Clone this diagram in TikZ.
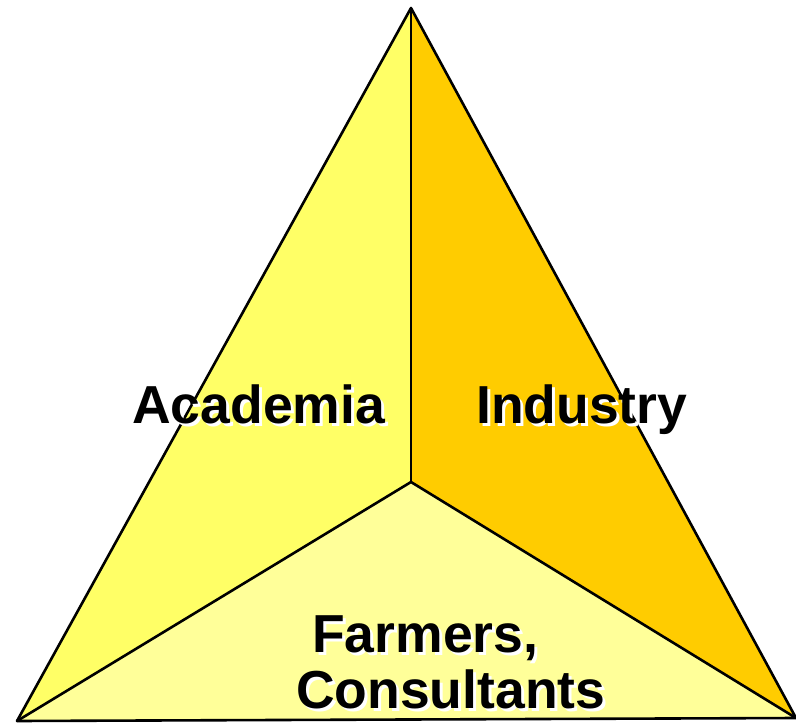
\documentclass[tikz,border=0pt]{standalone}
\usepackage{fontspec}
\setmainfont{Liberation Sans}
\begin{document}
\begin{tikzpicture}[x=1pt,y=-1pt,
  face/.style={draw=black,line width=2.6pt,line join=round},
  lbl/.style={font=\bfseries\fontsize{53.5}{60}\selectfont,inner sep=0pt,anchor=base west},
  shadowlbl/.style={lbl,text=white}]
\useasboundingbox (0,0) rectangle (796,723);
\definecolor{leftY}{HTML}{FFFF66}
\definecolor{rightY}{HTML}{FFCC00}
\definecolor{botY}{HTML}{FFFF99}
\coordinate (A) at (411,8);
\coordinate (L) at (17,721);
\coordinate (R) at (796,718);
\coordinate (C) at (411,482);
\fill[leftY] (A) -- (C) -- (L) -- cycle;
\fill[rightY] (A) -- (R) -- (C) -- cycle;
\fill[botY] (C) -- (R) -- (L) -- cycle;
\draw[face] (A) -- (L) -- (R) -- cycle;
\draw[face] (A) -- (C);
\draw[face] (L) -- (C) -- (R);
% labels
\node[shadowlbl] (acs) at (135,426) {Academia};
\node[lbl] (ac) at (132,423) {Academia};
\node[shadowlbl] (ins) at (479,426) {Industry};
\node[lbl] (in) at (476,423) {Industry};
\node[shadowlbl] (fas) at (315,655) {Farmers,};
\node[lbl] (fa) at (312,652) {Farmers,};
\node[shadowlbl] (cos) at (299,711) {Consultants};
\node[lbl] (co) at (296,708) {Consultants};
\end{tikzpicture}
\end{document}
